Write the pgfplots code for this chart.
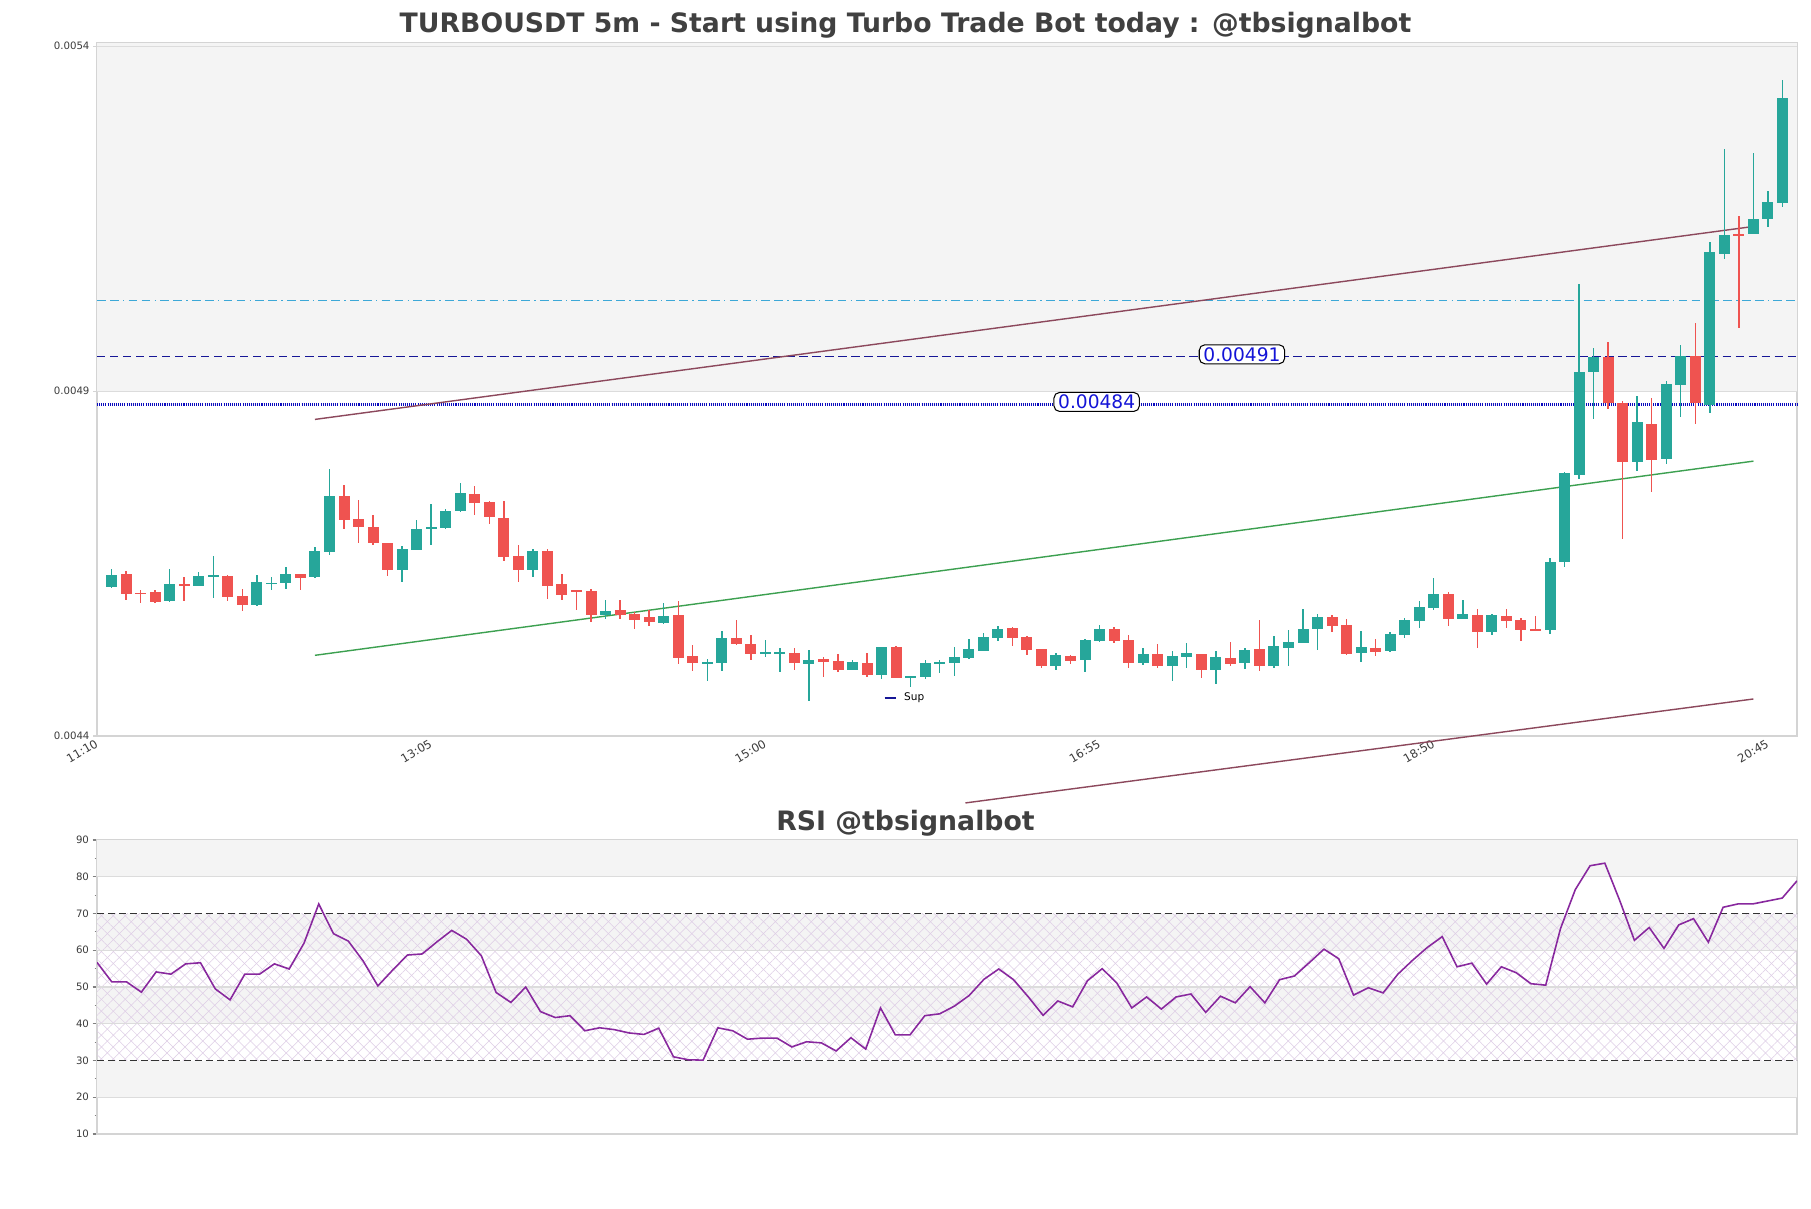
\documentclass[border=0pt]{standalone}
\usepackage{fontspec}
\setmainfont{DejaVu Sans}
\usepackage{pgfplots}
\pgfplotsset{compat=1.18}
\usepackage{pgfplotstable}
\usetikzlibrary{patterns.meta}

\definecolor{cgreen}{RGB}{38,166,154}
\definecolor{cred}{RGB}{239,83,80}
\definecolor{bandgray}{RGB}{244,244,244}
\definecolor{gridgray}{RGB}{220,220,220}
\definecolor{framegray}{RGB}{212,212,212}
\definecolor{chanbrown}{RGB}{140,72,92}
\definecolor{changreen}{RGB}{60,160,80}
\definecolor{refcyan}{RGB}{60,168,215}
\definecolor{refblue}{RGB}{22,22,150}
\definecolor{dotblue}{RGB}{10,10,190}
\definecolor{lblblue}{RGB}{20,20,215}
\definecolor{rsipurple}{RGB}{136,40,158}
\definecolor{hatchcol}{RGB}{222,205,230}
\definecolor{titlegray}{RGB}{64,64,64}
\definecolor{ticktext}{RGB}{60,60,60}

\pgfplotstableread{
i o h l c
0 0.0046162 0.0046428 0.0046150 0.0046331
4 0.0045959 0.0046418 0.0045950 0.0046201
6 0.0046177 0.0046375 0.0046170 0.0046317
7 0.0046307 0.0046607 0.0046003 0.0046331
10 0.0045901 0.0046336 0.0045887 0.0046230
11 0.0046206 0.0046312 0.0046119 0.0046225
12 0.0046220 0.0046447 0.0046133 0.0046346
14 0.0046307 0.0046737 0.0046293 0.0046679
15 0.0046670 0.0047868 0.0046626 0.0047477
20 0.0046409 0.0046762 0.0046235 0.0046708
21 0.0046699 0.0047129 0.0046690 0.0046998
22 0.0046994 0.0047361 0.0046771 0.0047027
23 0.0047013 0.0047288 0.0046994 0.0047259
24 0.0047259 0.0047665 0.0047250 0.0047520
29 0.0046409 0.0046708 0.0046307 0.0046679
34 0.0045751 0.0045979 0.0045703 0.0045809
38 0.0045640 0.0045935 0.0045631 0.0045737
41 0.0045051 0.0045123 0.0044799 0.0045065
42 0.0045060 0.0045519 0.0044944 0.0045418
45 0.0045191 0.0045389 0.0045147 0.0045215
46 0.0045200 0.0045283 0.0044930 0.0045215
48 0.0045051 0.0045254 0.0044509 0.0045099
51 0.0044954 0.0045099 0.0044950 0.0045070
53 0.0044886 0.0045290 0.0044828 0.0045287
55 0.0044850 0.0044870 0.0044712 0.0044867
56 0.0044857 0.0045099 0.0044828 0.0045055
57 0.0045046 0.0045099 0.0044915 0.0045075
58 0.0045060 0.0045287 0.0044872 0.0045142
59 0.0045133 0.0045413 0.0045113 0.0045258
60 0.0045234 0.0045490 0.0045230 0.0045432
61 0.0045423 0.0045592 0.0045379 0.0045548
65 0.0045017 0.0045200 0.0044954 0.0045171
67 0.0045099 0.0045408 0.0044925 0.0045389
68 0.0045374 0.0045606 0.0045365 0.0045548
71 0.0045060 0.0045283 0.0045031 0.0045186
73 0.0045017 0.0045229 0.0044799 0.0045157
74 0.0045147 0.0045350 0.0044988 0.0045200
76 0.0044959 0.0045229 0.0044756 0.0045142
78 0.0045060 0.0045283 0.0044968 0.0045244
80 0.0045017 0.0045447 0.0044993 0.0045302
81 0.0045278 0.0045534 0.0045017 0.0045360
82 0.0045350 0.0045838 0.0045345 0.0045548
83 0.0045553 0.0045766 0.0045244 0.0045722
86 0.0045206 0.0045525 0.0045075 0.0045293
88 0.0045235 0.0045501 0.0045220 0.0045477
89 0.0045462 0.0045704 0.0045414 0.0045680
90 0.0045670 0.0045960 0.0045568 0.0045868
91 0.0045858 0.0046293 0.0045825 0.0046062
93 0.0045699 0.0045970 0.0045695 0.0045767
95 0.0045510 0.0045767 0.0045462 0.0045752
99 0.0045539 0.0046584 0.0045472 0.0046521
100 0.0046516 0.0047831 0.0046453 0.0047806
101 0.0047787 0.0050552 0.0047724 0.0049276
102 0.0049281 0.0049629 0.0048594 0.0049498
105 0.0047966 0.0048928 0.0047845 0.0048551
107 0.0048009 0.0049150 0.0047937 0.0049102
108 0.0049092 0.0049667 0.0048628 0.0049503
110 0.0048792 0.0051156 0.0048686 0.0051016
111 0.0050996 0.0052509 0.0050909 0.0051262
113 0.0051282 0.0052451 0.0051280 0.0051494
114 0.0051499 0.0051900 0.0051383 0.0051741
115 0.0051731 0.0053510 0.0051673 0.0053249
}\greencandles

\pgfplotstableread{
i o h l c
1 0.0046346 0.0046389 0.0045969 0.0046056
2 0.0046080 0.0046123 0.0045930 0.0046061
3 0.0046085 0.0046123 0.0045930 0.0045940
5 0.0046201 0.0046302 0.0045959 0.0046177
8 0.0046317 0.0046336 0.0045954 0.0046017
9 0.0046027 0.0046128 0.0045814 0.0045901
13 0.0046346 0.0046350 0.0046119 0.0046293
16 0.0047477 0.0047636 0.0046998 0.0047134
17 0.0047143 0.0047419 0.0046805 0.0047032
18 0.0047027 0.0047201 0.0046771 0.0046800
19 0.0046795 0.0046805 0.0046322 0.0046409
25 0.0047506 0.0047622 0.0047206 0.0047380
26 0.0047390 0.0047414 0.0047076 0.0047177
27 0.0047158 0.0047404 0.0046539 0.0046597
28 0.0046607 0.0046766 0.0046235 0.0046409
30 0.0046680 0.0046710 0.0045993 0.0046177
31 0.0046201 0.0046356 0.0045974 0.0046046
32 0.0046114 0.0046124 0.0045834 0.0046090
33 0.0046099 0.0046138 0.0045655 0.0045756
35 0.0045834 0.0045969 0.0045693 0.0045761
36 0.0045766 0.0045800 0.0045553 0.0045679
37 0.0045722 0.0045834 0.0045597 0.0045650
39 0.0045751 0.0045954 0.0045046 0.0045133
40 0.0045157 0.0045316 0.0044944 0.0045060
43 0.0045418 0.0045679 0.0045316 0.0045331
44 0.0045331 0.0045461 0.0045104 0.0045191
47 0.0045200 0.0045283 0.0044954 0.0045060
49 0.0045118 0.0045147 0.0044857 0.0045075
50 0.0045084 0.0045196 0.0044935 0.0044954
52 0.0045055 0.0045205 0.0044857 0.0044886
54 0.0045287 0.0045312 0.0044840 0.0044848
62 0.0045563 0.0045577 0.0045307 0.0045423
63 0.0045432 0.0045447 0.0045171 0.0045249
64 0.0045258 0.0045262 0.0044988 0.0045017
66 0.0045157 0.0045176 0.0045046 0.0045089
69 0.0045548 0.0045587 0.0045350 0.0045374
70 0.0045389 0.0045461 0.0044983 0.0045060
72 0.0045186 0.0045331 0.0044988 0.0045017
75 0.0045186 0.0045190 0.0044838 0.0044959
77 0.0045128 0.0045360 0.0045017 0.0045046
79 0.0045258 0.0045679 0.0044944 0.0045017
84 0.0045722 0.0045751 0.0045505 0.0045592
85 0.0045606 0.0045693 0.0045176 0.0045191
87 0.0045278 0.0045404 0.0045162 0.0045220
92 0.0046062 0.0046090 0.0045597 0.0045699
94 0.0045752 0.0045839 0.0045278 0.0045510
96 0.0045747 0.0045839 0.0045568 0.0045665
97 0.0045680 0.0045704 0.0045380 0.0045544
98 0.0045549 0.0045738 0.0045520 0.0045525
103 0.0049498 0.0049716 0.0048739 0.0048821
104 0.0048821 0.0048855 0.0046859 0.0047966
106 0.0048522 0.0048904 0.0047541 0.0047995
109 0.0049503 0.0049991 0.0048517 0.0048821
112 0.0051277 0.0051543 0.0049923 0.0051248
}\redcandles

\pgfplotstableread{
j r
0 56.7
1 51.4
2 51.4
3 48.6
4 54.1
5 53.5
6 56.3
7 56.6
8 49.5
9 46.5
10 53.5
11 53.5
12 56.3
13 54.9
14 61.9
15 72.6
16 64.5
17 62.5
18 57.1
19 50.3
20 54.6
21 58.7
22 59.0
23 62.3
24 65.4
25 63.0
26 58.5
27 48.5
28 45.8
29 50.0
30 43.3
31 41.7
32 42.2
33 38.1
34 38.9
35 38.4
36 37.5
37 37.1
38 38.8
39 31.0
40 30.2
41 30.1
42 38.9
43 38.1
44 35.8
45 36.1
46 36.1
47 33.7
48 35.1
49 34.8
50 32.6
51 36.2
52 33.1
53 44.3
54 37.0
55 37.0
56 42.2
57 42.7
58 44.8
59 47.7
60 52.1
61 54.9
62 52.0
63 47.3
64 42.3
65 46.2
66 44.6
67 51.7
68 55.0
69 51.0
70 44.3
71 47.3
72 44.0
73 47.3
74 48.1
75 43.1
76 47.5
77 45.7
78 50.1
79 45.7
80 52.0
81 53.0
82 56.6
83 60.3
84 57.7
85 47.8
86 49.8
87 48.4
88 53.5
89 57.3
90 60.8
91 63.7
92 55.5
93 56.5
94 50.8
95 55.5
96 53.9
97 50.9
98 50.5
99 65.9
100 76.5
101 83.0
102 83.7
103 73.6
104 62.7
105 66.2
106 60.5
107 66.9
108 68.6
109 62.2
110 71.7
111 72.6
112 72.6
113 73.4
114 74.2
115 78.9
}\rsitable

\begin{document}
\begin{tikzpicture}[x=1cm,y=1cm]
\path[use as bounding box] (0,0) rectangle (18.11,12.08);
\fill[white] (0,0) rectangle (18.11,12.08);

% ---------------- main price axis ----------------
\begin{axis}[
  at={(0.97cm,4.72cm)}, anchor=south west, scale only axis,
  width=17cm, height=6.933cm,
  xmin=-1, xmax=116, ymin=0.0044, ymax=0.0054051,
  clip=false,
  axis line style={framegray, line width=0.4pt},
  xtick={-1,22,45,68,91,114},
  xticklabels={11:10,13:05,15:00,16:55,18:50,20:45},
  xticklabel style={rotate=30, anchor=north east, font=\fontsize{3.3}{3.9}\selectfont, text=ticktext, inner sep=0.3pt, yshift=0.04cm},
  ytick={0.0044,0.0049,0.0054},
  yticklabels={0.0044,0.0049,0.0054},
  yticklabel style={font=\fontsize{2.9}{3.4}\selectfont, text=ticktext, inner sep=0.8pt},
  scaled y ticks=false,
  xtick pos=bottom, ytick pos=left,
  x tick style={draw=none},
  y tick style={draw=framegray, line width=0.3pt},
  major tick length=0.04cm, tick align=outside,
]
\fill[bandgray] (axis cs:-1,0.0049) rectangle (axis cs:116,0.0054051);
\draw[gridgray, line width=0.3pt] (axis cs:-1,0.0049) -- (axis cs:116,0.0049);
\draw[gridgray, line width=0.3pt] (axis cs:-1,0.0054) -- (axis cs:116,0.0054);

% reference levels
\addplot[refcyan, line width=0.4pt, dash pattern=on 2.5pt off 1.2pt on 2.5pt off 1.2pt on 0.4pt off 1.2pt] coordinates {(-1,0.0050315) (116,0.0050315)};
\addplot[refblue, line width=0.45pt, dash pattern=on 2.4pt off 1.3pt] coordinates {(-1,0.0049503) (116,0.0049503)};
\addplot[dotblue, line width=0.9pt, dash pattern=on 0.3pt off 0.3pt] coordinates {(-1,0.0048812) (116,0.0048812)};

% channel lines
\addplot[chanbrown, line width=0.4pt] coordinates {(14,0.0048590) (113,0.0051387)};
\addplot[changreen, line width=0.4pt] coordinates {(14,0.0045170) (113,0.0047985)};
\addplot[chanbrown, line width=0.4pt] coordinates {(58.77,0.0043030) (113,0.0044537)};

% wicks
\addplot[draw=none, mark=none, forget plot,
  error bars/.cd, y dir=both, y explicit, error mark=none,
  error bar style={draw=cgreen, line width=0.4pt, solid}]
  table[x=i, y expr={(\thisrow{h}+\thisrow{l})/2}, y error expr={(\thisrow{h}-\thisrow{l})/2}] {\greencandles};
\addplot[draw=none, mark=none, forget plot,
  error bars/.cd, y dir=both, y explicit, error mark=none,
  error bar style={draw=cred, line width=0.4pt, solid}]
  table[x=i, y expr={(\thisrow{h}+\thisrow{l})/2}, y error expr={(\thisrow{h}-\thisrow{l})/2}] {\redcandles};
% bodies
\addplot[draw=none, mark=none, forget plot,
  error bars/.cd, y dir=both, y explicit, error mark=none,
  error bar style={draw=cgreen, line width=3.13pt, solid, line cap=butt}]
  table[x=i, y expr={(\thisrow{o}+\thisrow{c})/2}, y error expr={max(abs(\thisrow{o}-\thisrow{c})/2,0.0000008)}] {\greencandles};
\addplot[draw=none, mark=none, forget plot,
  error bars/.cd, y dir=both, y explicit, error mark=none,
  error bar style={draw=cred, line width=3.13pt, solid, line cap=butt}]
  table[x=i, y expr={(\thisrow{o}+\thisrow{c})/2}, y error expr={max(abs(\thisrow{o}-\thisrow{c})/2,0.0000008)}] {\redcandles};

% level labels
\node[draw=black, fill=white, rounded corners=1.6pt, line width=0.3pt, text=lblblue, inner xsep=1.2pt, inner ysep=0.7pt, font=\fontsize{5.3}{6}\selectfont] at (axis cs:77.8,0.0049534) {0.00491};
\node[draw=black, fill=white, rounded corners=1.6pt, line width=0.3pt, text=lblblue, inner xsep=1.2pt, inner ysep=0.7pt, font=\fontsize{5.3}{6}\selectfont] at (axis cs:67.8,0.0048843) {0.00484};

% legend entry
\draw[refblue, line width=0.6pt] (axis cs:53.2,0.0044553) -- (axis cs:54.0,0.0044553);
\node[anchor=west, inner sep=0pt, font=\fontsize{3}{3.6}\selectfont] at (axis cs:54.5,0.0044553) {Sup};
\end{axis}

% ---------------- RSI axis ----------------
\begin{axis}[
  at={(0.97cm,0.74cm)}, anchor=south west, scale only axis,
  width=17cm, height=2.94cm,
  xmin=0, xmax=115, ymin=10, ymax=90,
  axis line style={framegray, line width=0.4pt},
  xtick=\empty,
  ytick={10,20,30,40,50,60,70,80,90},
  yticklabels={10,20,30,40,50,60,70,80,90},
  minor ytick={15,25,35,45,55,65,75,85},
  yticklabel style={font=\fontsize{2.9}{3.4}\selectfont, text=ticktext, inner sep=0.8pt},
  ytick pos=left,
  y tick style={draw=gray, line width=0.3pt},
  major tick length=0.045cm, minor tick length=0.025cm, tick align=outside,
]
\fill[bandgray] (axis cs:0,20) rectangle (axis cs:115,30);
\fill[bandgray] (axis cs:0,40) rectangle (axis cs:115,50);
\fill[bandgray] (axis cs:0,60) rectangle (axis cs:115,70);
\fill[bandgray] (axis cs:0,80) rectangle (axis cs:115,90);
\fill[pattern={Lines[angle=45,distance=2.4pt,line width=0.15pt]}, pattern color=hatchcol] (axis cs:0,30) rectangle (axis cs:115,70);
\fill[pattern={Lines[angle=-45,distance=2.4pt,line width=0.15pt]}, pattern color=hatchcol] (axis cs:0,30) rectangle (axis cs:115,70);
\draw[gridgray, line width=0.3pt] (axis cs:0,20) -- (axis cs:115,20);
\draw[gridgray, line width=0.3pt] (axis cs:0,40) -- (axis cs:115,40);
\draw[gridgray, line width=0.3pt] (axis cs:0,50) -- (axis cs:115,50);
\draw[gridgray, line width=0.3pt] (axis cs:0,60) -- (axis cs:115,60);
\draw[gridgray, line width=0.3pt] (axis cs:0,80) -- (axis cs:115,80);
\addplot[black!80, line width=0.4pt, dash pattern=on 2pt off 1.1pt] coordinates {(0,70) (115,70)};
\addplot[black!80, line width=0.4pt, dash pattern=on 2pt off 1.1pt] coordinates {(0,30) (115,30)};
\addplot[rsipurple, line width=0.45pt, mark=none] table[x=j, y=r] {\rsitable};
\end{axis}

% titles
\node[anchor=base, font=\bfseries\fontsize{7.6}{9}\selectfont, text=titlegray] at (9.055,11.757) {TURBOUSDT 5m - Start using Turbo Trade Bot today : @tbsignalbot};
\node[anchor=base, font=\bfseries\fontsize{7.6}{9}\selectfont, text=titlegray] at (9.055,3.78) {RSI @tbsignalbot};
\end{tikzpicture}
\end{document}
